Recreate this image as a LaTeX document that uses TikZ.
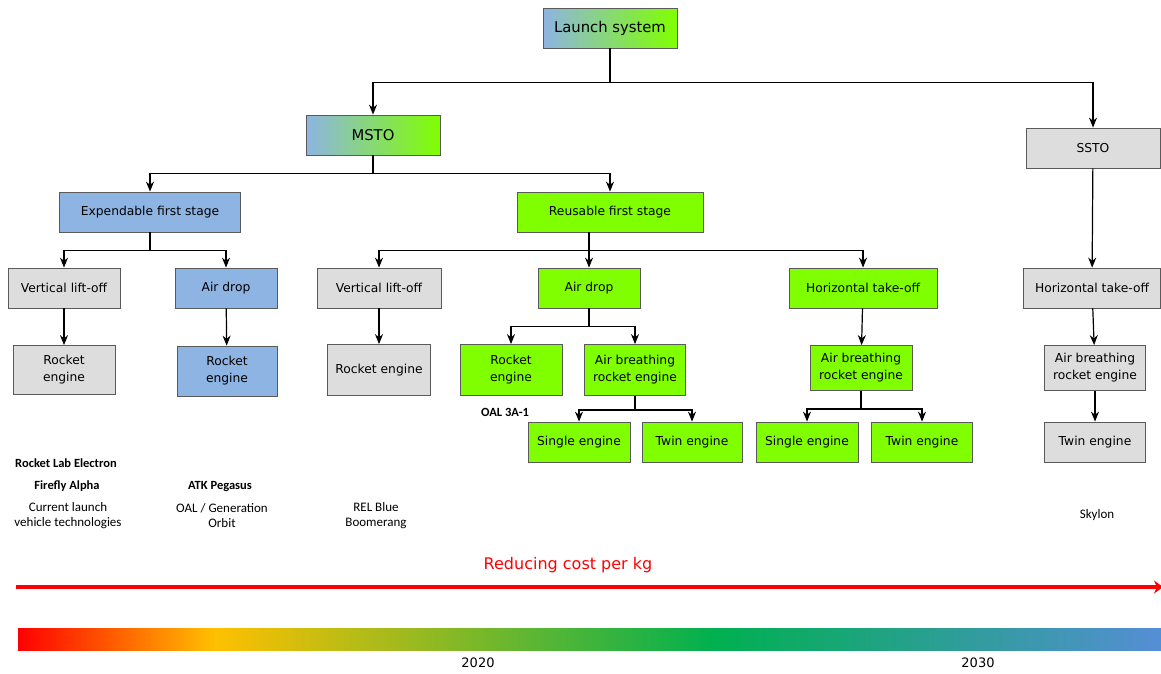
\documentclass[tikz,border=0pt]{standalone}
\usepackage{fontspec}
\setmainfont{DejaVu Sans}
\newfontfamily\lblfont{Carlito}
\usetikzlibrary{arrows.meta}
\definecolor{boxgreen}{RGB}{128,255,0}
\definecolor{boxblue}{RGB}{142,180,227}
\definecolor{boxgray}{RGB}{221,221,221}
\definecolor{boxline}{RGB}{90,90,90}
\definecolor{barorange}{RGB}{255,192,0}
\definecolor{bargreen}{RGB}{0,176,80}
\definecolor{barblue}{RGB}{85,142,213}
\pgfdeclarehorizontalshading{costbar}{100bp}{color(0bp)=(red); color(25bp)=(red); color(33.6bp)=(barorange); color(55.5bp)=(bargreen); color(75bp)=(barblue); color(100bp)=(barblue)}

\begin{document}
\begin{tikzpicture}[x=1pt,y=-1pt,
  box/.style={draw=boxline,line width=0.8pt,minimum height=40pt,inner sep=2pt,align=center,font=\fontsize{12.3}{17}\selectfont},
  greenbox/.style={box,fill=boxgreen},
  bluebox/.style={box,fill=boxblue},
  graybox/.style={box,fill=boxgray},
  mixbox/.style={box,left color=boxblue,right color=boxgreen,font=\fontsize{14.8}{17}\selectfont},
  link/.style={line width=1.2pt,-{Stealth[length=10pt,width=8pt]}},
  lbl/.style={font=\lblfont\fontsize{13}{15}\selectfont,align=center},
  blbl/.style={lbl,font=\lblfont\bfseries\fontsize{12.5}{15}\selectfont}]
\useasboundingbox (0,0) rectangle (1161,673);

% top of the tree
\node[mixbox,minimum width=134pt] (launch) at (610,28) {Launch system};
\node[mixbox,minimum width=134pt] (msto) at (373,135) {MSTO};
\node[graybox,minimum width=134pt] (ssto) at (1093,148) {SSTO};
\node[bluebox,minimum width=181pt] (expend) at (150,212) {Expendable first stage};
\node[greenbox,minimum width=186pt] (reuse) at (610,212) {Reusable first stage};

% third row
\node[graybox,minimum width=112pt] (vlo1) at (64,288) {Vertical lift-off};
\node[bluebox,minimum width=102pt] (ad1) at (226,288) {Air drop};
\node[graybox,minimum width=124pt] (vlo2) at (379,288) {Vertical lift-off};
\node[greenbox,minimum width=102pt] (ad2) at (589,288) {Air drop};
\node[greenbox,minimum width=148pt] (hto1) at (863,288) {Horizontal take-off};
\node[graybox,minimum width=137pt] (hto2) at (1092,288) {Horizontal take-off};

% engines
\node[graybox,minimum width=102pt,minimum height=49pt] (re1) at (64,370) {Rocket\\engine};
\node[bluebox,minimum width=100pt,minimum height=50pt] (re2) at (227,371) {Rocket\\engine};
\node[graybox,minimum width=103pt,minimum height=51pt] (re3) at (379,370) {Rocket engine};
\node[greenbox,minimum width=102pt,minimum height=51pt] (re4) at (511,370) {Rocket\\engine};
\node[greenbox,minimum width=101pt,minimum height=51pt] (abre1) at (635,370) {Air breathing\\rocket engine};
\node[greenbox,minimum width=102pt,minimum height=45pt] (abre2) at (861,368) {Air breathing\\rocket engine};
\node[graybox,minimum width=101pt,minimum height=45pt] (abre3) at (1095,368) {Air breathing\\rocket engine};

\node[greenbox,minimum width=102pt] (se1) at (579,442) {Single engine};
\node[greenbox,minimum width=100pt] (te1) at (692,442) {Twin engine};
\node[greenbox,minimum width=102pt] (se2) at (807,442) {Single engine};
\node[greenbox,minimum width=101pt] (te2) at (922,442) {Twin engine};
\node[graybox,minimum width=101pt] (te3) at (1095,442) {Twin engine};

% connectors
\draw[line width=1.2pt] (launch.south) -- ++(0,34) coordinate (j1);
\foreach \n in {msto,ssto} \draw[link] (j1) -| (\n.north);
\draw[line width=1.2pt] (msto.south) -- ++(0,18) coordinate (j2);
\foreach \n in {expend,reuse} \draw[link] (j2) -| (\n.north);
\draw[line width=1.2pt] (expend.south) -- ++(0,18) coordinate (j3);
\foreach \n in {vlo1,ad1} \draw[link] (j3) -| (\n.north);
\draw[line width=1.2pt] (reuse.south -| ad2) -- ++(0,18) coordinate (j4);
\foreach \n in {vlo2,ad2,hto1} \draw[link] (j4) -| (\n.north);
\draw[line width=1.2pt] (ad2.south) -- ++(0,18) coordinate (j5);
\foreach \n in {re4,abre1} \draw[link] (j5) -| (\n.north);
\draw[line width=1.2pt] (abre1.south) -- ++(0,14) coordinate (j6);
\foreach \n in {se1,te1} \draw[link] (j6) -| (\n.north);
\draw[line width=1.2pt] (abre2.south) -- ++(0,18) coordinate (j7);
\foreach \n in {se2,te2} \draw[link] (j7) -| (\n.north);
\draw[link] (vlo1) -- (re1);
\draw[link] (ad1) -- (re2);
\draw[link] (vlo2) -- (re3);
\draw[link] (hto1) -- (abre2);
\draw[link] (ssto) -- (hto2);
\draw[link] (hto2) -- (abre3);
\draw[link] (abre3) -- (te3);

% vehicles
\node[blbl] (electron) at (66,463) {Rocket Lab Electron};
\node[blbl] (firefly) at (67,486) {Firefly Alpha};
\node[lbl] (current) at (68,516) {Current launch\\vehicle technologies};
\node[blbl] (pegasus) at (220,486) {ATK Pegasus};
\node[lbl] (oal) at (222,516) {OAL / Generation\\Orbit};
\node[lbl] (rel) at (376,516) {REL Blue\\Boomerang};
\node[blbl] (oal3a) at (505,412) {OAL 3A-1};
\node[lbl] (skylon) at (1097,515) {Skylon};

% cost arrow and time bar
\node[red,font=\fontsize{16}{18}\selectfont] (cost) at (568,565) {Reducing cost per kg};
\coordinate (costL) at (16,587);
\coordinate (costR) at (1163,587);
\draw[red,line width=4pt,-{Stealth[length=9pt,width=13pt]}] (costL) -- (costR);
\fill[shading=costbar] (18,628) rectangle (1161,650);
\node[font=\fontsize{13}{15}\selectfont] (y2020) at (478,663) {2020};
\node[font=\fontsize{13}{15}\selectfont] (y2030) at (978,663) {2030};
\end{tikzpicture}
\end{document}
